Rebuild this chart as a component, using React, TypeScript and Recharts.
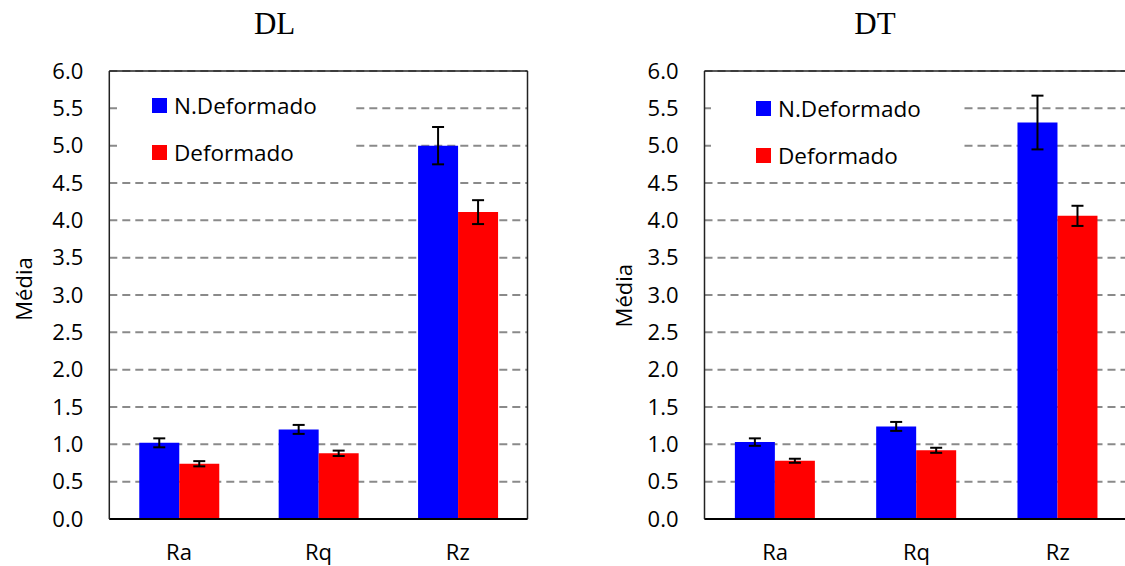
import {
  BarChart,
  Bar,
  XAxis,
  YAxis,
  CartesianGrid,
  ErrorBar,
  Legend,
  Label,
} from "recharts";

const categories = ["Ra", "Rq", "Rz"];
const seriesNames = ["N.Deformado", "Deformado"];
const yTicks = [0, 0.5, 1, 1.5, 2, 2.5, 3, 3.5, 4, 4.5, 5, 5.5, 6];

// DL panel
const dlNDef = [1.02, 1.2, 5.0];
const dlNDefErr = [0.06, 0.06, 0.25];
const dlDef = [0.74, 0.88, 4.11];
const dlDefErr = [0.035, 0.036, 0.16];

// DT panel
const dtNDef = [1.03, 1.24, 5.31];
const dtNDefErr = [0.05, 0.06, 0.36];
const dtDef = [0.78, 0.92, 4.06];
const dtDefErr = [0.027, 0.034, 0.135];

const FONT = '"Open Sans", sans-serif';

function buildRows(a: number[], aErr: number[], b: number[], bErr: number[]) {
  return categories.map((cat, i) => ({
    cat,
    nDef: a[i],
    nDefErr: aErr[i],
    def: b[i],
    defErr: bErr[i],
  }));
}

function LegendBox({ payload, sqLeft, rowTops }: any) {
  // keep series order, recharts sorts legend items by name
  const items = [...(payload || [])].sort(
    (a: any, b: any) => seriesNames.indexOf(a.value) - seriesNames.indexOf(b.value)
  );
  return (
    <div style={{ position: "relative", width: "100%", height: "100%", background: "#fff" }}>
      {items.map((p: any, i: number) => (
        <div
          key={p.value}
          style={{
            position: "absolute",
            left: sqLeft,
            top: rowTops[i] - 4,
            height: 23,
            display: "flex",
            alignItems: "center",
            whiteSpace: "nowrap",
          }}
        >
          <span style={{ display: "inline-block", width: 15, height: 15, background: p.color }} />
          <span style={{ marginLeft: 7, fontFamily: FONT, fontSize: 22.5, lineHeight: "23px", color: "#000" }}>
            {p.value}
          </span>
        </div>
      ))}
    </div>
  );
}

interface PanelProps {
  title: string;
  rows: any[];
  width: number;
  yAxisWidth: number;
  marginRight: number;
  titleX: number;
  mediaX: number;
  mediaY: number;
  legend: { left: number; top: number; width: number; height: number; sqLeft: number; rowTops: number[] };
}

function Panel({ title, rows, width, yAxisWidth, marginRight, titleX, mediaX, mediaY, legend }: PanelProps) {
  return (
    <div style={{ position: "relative", width, height: 566 }}>
      <div
        style={{
          position: "absolute",
          left: titleX,
          top: 8,
          transform: "translateX(-50%)",
          fontFamily: '"Liberation Serif", serif',
          fontSize: 31,
          lineHeight: "31px",
          color: "#000",
        }}
      >
        {title}
      </div>
      <BarChart
        width={width}
        height={566}
        data={rows}
        margin={{ top: 70, right: marginRight - 1, bottom: 0, left: 0 }}
        barCategoryGap="21.5%"
        barGap={0}
      >
        <CartesianGrid vertical={false} stroke="#8a8a8a" strokeWidth={2} strokeDasharray="8 5" />
        <XAxis
          dataKey="cat"
          height={47}
          tickLine={false}
          tickSize={0}
          tickMargin={25}
          axisLine={{ stroke: "#000", strokeWidth: 2 }}
          tick={{ fill: "#000", fontSize: 22, fontFamily: FONT }}
        />
        <XAxis
          xAxisId="top"
          orientation="top"
          dataKey="cat"
          height={1}
          tick={false}
          tickLine={false}
          axisLine={{ stroke: "#222", strokeWidth: 1.5 }}
        />
        <YAxis
          width={yAxisWidth}
          domain={[0, 6]}
          ticks={yTicks}
          tickFormatter={(v: number) => v.toFixed(1)}
          tickLine={false}
          tickSize={0}
          tickMargin={26}
          axisLine={{ stroke: "#222", strokeWidth: 1.5 }}
          tick={{ fill: "#000", fontSize: 22, fontFamily: FONT }}
        >
          <Label
            content={() => (
              <text
                x={mediaX}
                y={mediaY}
                transform={`rotate(-90 ${mediaX} ${mediaY})`}
                textAnchor="middle"
                fontFamily={FONT}
                fontSize={22}
                fill="#000"
              >
                Média
              </text>
            )}
          />
        </YAxis>
        <YAxis
          yAxisId="right"
          orientation="right"
          width={1}
          domain={[0, 6]}
          tick={false}
          tickLine={false}
          axisLine={{ stroke: "#222", strokeWidth: 1.5 }}
        />
        <Legend
          layout="vertical"
          align="center"
          verticalAlign="middle"
          wrapperStyle={{ left: legend.left, top: legend.top, width: legend.width, height: legend.height }}
          content={(props: any) => (
            <LegendBox payload={props.payload} sqLeft={legend.sqLeft} rowTops={legend.rowTops} />
          )}
        />
        <Bar dataKey="nDef" name={seriesNames[0]} fill="#0000ff" isAnimationActive={false}>
          <ErrorBar dataKey="nDefErr" width={6} stroke="#000" strokeWidth={2} isAnimationActive={false} />
        </Bar>
        <Bar dataKey="def" name={seriesNames[1]} fill="#ff0000" isAnimationActive={false}>
          <ErrorBar dataKey="defErr" width={6} stroke="#000" strokeWidth={2} isAnimationActive={false} />
        </Bar>
      </BarChart>
    </div>
  );
}

export default function App() {
  const dlRows = buildRows(dlNDef, dlNDefErr, dlDef, dlDefErr);
  const dtRows = buildRows(dtNDef, dtNDefErr, dtDef, dtDefErr);

  return (
    <div style={{ position: "absolute", left: 0, top: 0, width: 1125, height: 566, background: "#fff", overflow: "hidden" }}>
      <div style={{ position: "absolute", left: 0, top: 0 }}>
        <Panel
          title="DL"
          rows={dlRows}
          width={560}
          yAxisWidth={109.3}
          marginRight={32.5}
          titleX={274.6}
          mediaX={31.7}
          mediaY={289}
          legend={{ left: 117, top: 84, width: 236, height: 88, sqLeft: 35, rowTops: [13.7, 61] }}
        />
      </div>
      <div style={{ position: "absolute", left: 560, top: 0, width: 565, height: 566, overflow: "hidden" }}>
        <Panel
          title="DT"
          rows={dtRows}
          width={580}
          yAxisWidth={144.5}
          marginRight={11.6}
          titleX={315}
          mediaX={72}
          mediaY={295.7}
          legend={{ left: 151, top: 84, width: 250, height: 88, sqLeft: 45, rowTops: [17, 64] }}
        />
      </div>
    </div>
  );
}
